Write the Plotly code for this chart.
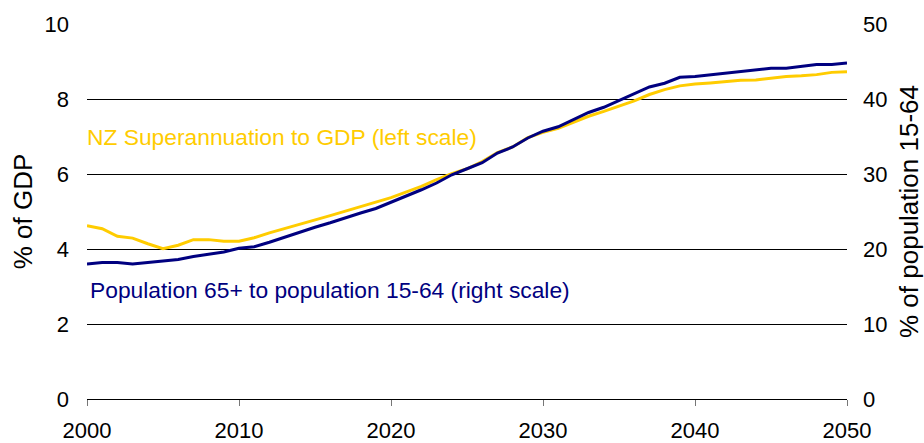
import plotly.graph_objects as go

years = list(range(2000, 2051))

nz_super_gdp = [
    4.62, 4.54, 4.34, 4.29, 4.14, 4.01, 4.10, 4.25, 4.25, 4.21,
    4.21, 4.30, 4.43, 4.54, 4.67, 4.76, 4.89, 5.01, 5.14, 5.25,
    5.37, 5.52, 5.67, 5.85, 6.01, 6.14, 6.33, 6.57, 6.72, 6.97,
    7.11, 7.22, 7.39, 7.54, 7.67, 7.81, 7.95, 8.12, 8.25, 8.35,
    8.40, 8.43, 8.47, 8.50, 8.51, 8.56, 8.60, 8.62, 8.65, 8.71,
    8.73,
]

pop_ratio = [
    18.0, 18.2, 18.2, 18.0, 18.2, 18.4, 18.6, 19.0, 19.3, 19.6,
    20.1, 20.3, 20.9, 21.6, 22.3, 22.9, 23.5, 24.2, 24.8, 25.4,
    26.2, 27.1, 27.9, 28.8, 29.9, 30.7, 31.5, 32.8, 33.6, 34.8,
    35.7, 36.3, 37.3, 38.2, 38.9, 39.8, 40.6, 41.6, 42.1, 42.9,
    43.0, 43.2, 43.4, 43.7, 43.9, 44.1, 44.1, 44.3, 44.6, 44.6,
    44.8,
]

left_ticks = [0, 2, 4, 6, 8, 10]
right_ticks = [0, 10, 20, 30, 40, 50]
x_ticks = [2000, 2010, 2020, 2030, 2040, 2050]

YELLOW = "#FFCC00"
NAVY = "#000080"
FONT = "Liberation Sans, Arial, sans-serif"

fig = go.Figure()
fig.add_trace(go.Scatter(x=years, y=nz_super_gdp, mode="lines",
                         line=dict(color=YELLOW, width=3), yaxis="y",
                         name="NZ Superannuation to GDP"))
fig.add_trace(go.Scatter(x=years, y=pop_ratio, mode="lines",
                         line=dict(color=NAVY, width=3), yaxis="y2",
                         name="Population 65+ to population 15-64"))

fig.update_layout(
    width=924, height=443,
    margin=dict(l=87, r=77, t=24, b=44),
    paper_bgcolor="white", plot_bgcolor="white",
    showlegend=False,
    font=dict(family=FONT, size=22, color="black"),
    xaxis=dict(range=[2000, 2050], tickvals=x_ticks, showgrid=False,
               showline=True, linecolor="black", linewidth=1,
               ticks="outside", ticklen=6, tickcolor="#777777", tickwidth=1,
               ticklabelstandoff=6, zeroline=False, automargin=False),
    yaxis=dict(range=[0, 10], tickvals=left_ticks, showgrid=True,
               gridcolor="black", gridwidth=1, zeroline=False,
               showline=False, ticks="", ticklabelstandoff=17,
               automargin=False,
               title=dict(text="% of GDP", standoff=4)),
    yaxis2=dict(range=[0, 50], tickvals=right_ticks, overlaying="y",
                side="right", showgrid=False, zeroline=False,
                showline=False, ticks="", ticklabelstandoff=15,
                automargin=False,
                title=dict(text="% of population 15-64", standoff=16)),
    annotations=[
        dict(x=2000, y=6.99, xref="x", yref="y", xanchor="left",
             yanchor="middle", xshift=-2, showarrow=False,
             text="NZ Superannuation to GDP (left scale)",
             font=dict(family=FONT, size=22.8, color=YELLOW)),
        dict(x=2000, y=2.9, xref="x", yref="y", xanchor="left",
             yanchor="middle", xshift=1, showarrow=False,
             text="Population 65+ to population 15-64 (right scale)",
             font=dict(family=FONT, size=22.8, color=NAVY)),
    ],
)

fig.write_html(
    "out.html",
    config={"displayModeBar": False},
    post_script="document.body.style.margin='0';"
                "document.body.style.overflow='hidden';",
)
